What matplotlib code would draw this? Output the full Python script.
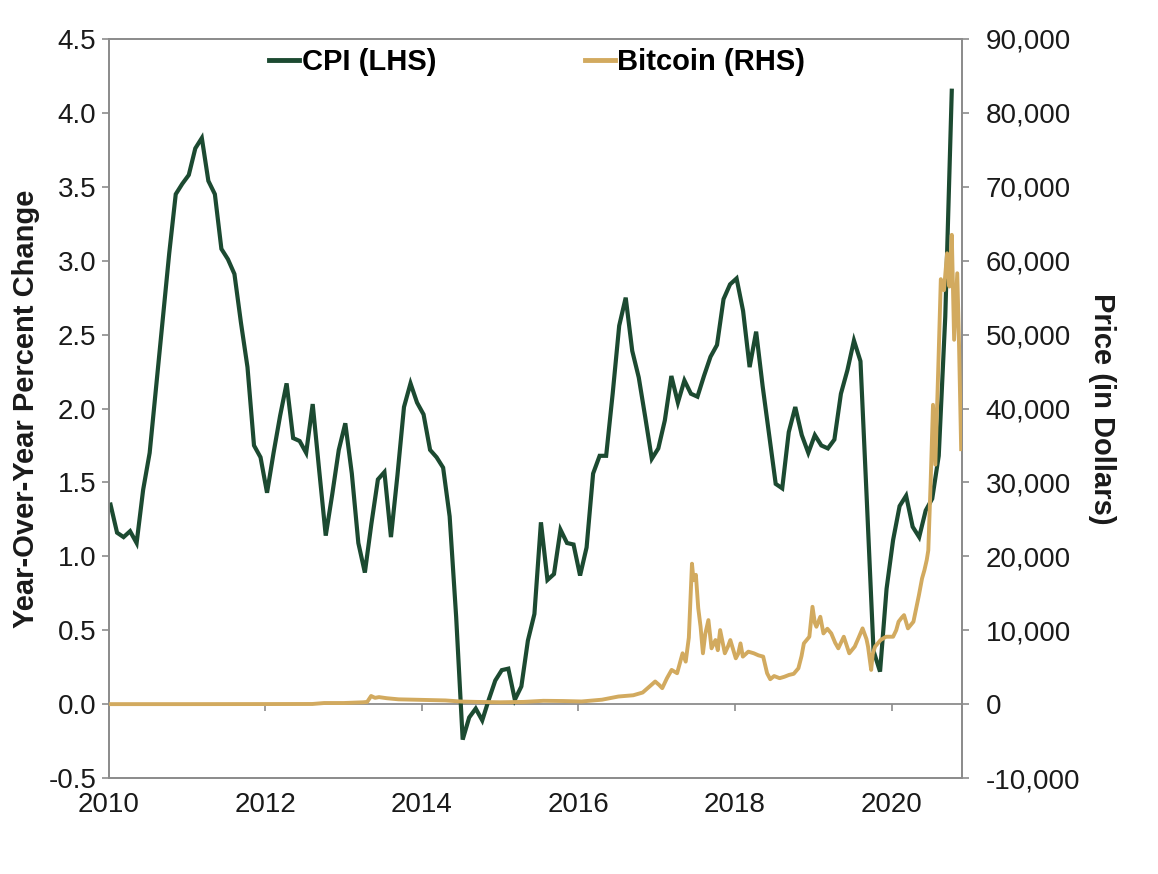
import numpy as np
import matplotlib
matplotlib.use("Agg")
import matplotlib.pyplot as plt
from matplotlib.ticker import FuncFormatter
from matplotlib.lines import Line2D

# --- data ---
# CPI year-over-year % change, one value per month (LHS)
cpi_start = 2010.02
cpi_values = [
    1.35, 1.16, 1.13, 1.17, 1.09, 1.45, 1.70, 2.15, 2.60, 3.05,
    3.45, 3.52, 3.58, 3.76, 3.83, 3.54, 3.45, 3.08, 3.01, 2.91,
    2.58, 2.28, 1.75, 1.67, 1.43, 1.70, 1.95, 2.17, 1.80, 1.78,
    1.70, 2.03, 1.58, 1.14, 1.42, 1.72, 1.90, 1.56, 1.09, 0.89,
    1.22, 1.52, 1.57, 1.13, 1.55, 2.01, 2.17, 2.04, 1.96, 1.72,
    1.67, 1.60, 1.27, 0.59, -0.24, -0.09, -0.03, -0.11, 0.03, 0.16,
    0.23, 0.24, 0.03, 0.12, 0.43, 0.61, 1.23, 0.84, 0.88, 1.18,
    1.09, 1.08, 0.87, 1.06, 1.56, 1.68, 1.68, 2.10, 2.56, 2.75,
    2.39, 2.21, 1.94, 1.66, 1.73, 1.92, 2.22, 2.04, 2.19, 2.10,
    2.08, 2.22, 2.35, 2.43, 2.74, 2.84, 2.88, 2.66, 2.28, 2.52,
    2.15, 1.82, 1.49, 1.46, 1.84, 2.01, 1.82, 1.70, 1.82, 1.75,
    1.73, 1.79, 2.10, 2.26, 2.46, 2.32, 1.35, 0.36, 0.22, 0.78,
    1.11, 1.34, 1.41, 1.20, 1.13, 1.31, 1.39, 1.68, 2.62, 4.15,
]

# Bitcoin price in dollars (RHS)
btc_years = [
    2010.00, 2011.00, 2012.00, 2012.60, 2012.75, 2013.00, 2013.25, 2013.30,
    2013.35, 2013.40, 2013.45, 2013.55, 2013.70, 2013.90, 2014.10, 2014.30,
    2014.50, 2014.70, 2015.00, 2015.30, 2015.55, 2015.80, 2016.04, 2016.30,
    2016.51, 2016.70, 2016.82, 2016.92, 2016.98, 2017.03, 2017.07, 2017.13,
    2017.19, 2017.26, 2017.33, 2017.37, 2017.41, 2017.43, 2017.45, 2017.47,
    2017.50, 2017.53, 2017.56, 2017.59, 2017.62, 2017.66, 2017.70, 2017.75,
    2017.78, 2017.81, 2017.87, 2017.91, 2017.94, 2018.01, 2018.04, 2018.07,
    2018.10, 2018.17, 2018.24, 2018.30, 2018.36, 2018.41, 2018.45, 2018.50,
    2018.57, 2018.63, 2018.69, 2018.75, 2018.81, 2018.85, 2018.88, 2018.95,
    2018.99, 2019.02, 2019.04, 2019.09, 2019.13, 2019.18, 2019.23, 2019.28,
    2019.32, 2019.39, 2019.46, 2019.53, 2019.58, 2019.63, 2019.68, 2019.70,
    2019.74, 2019.76, 2019.79, 2019.86, 2019.93, 2020.02, 2020.06, 2020.09,
    2020.13, 2020.16, 2020.21, 2020.28, 2020.35, 2020.39, 2020.42, 2020.45,
    2020.47, 2020.50, 2020.53, 2020.56, 2020.60, 2020.63, 2020.67, 2020.71,
    2020.74, 2020.77, 2020.80, 2020.84, 2020.86, 2020.89,
]
btc_prices = [
    0, 0, 10, 20, 150, 150, 250, 300,
    1100, 850, 950, 800, 650, 600, 550, 500,
    350, 300, 250, 300, 450, 420, 360, 600,
    1030, 1200, 1570, 2500, 3060, 2600, 2160, 3500,
    4630, 4180, 6880, 5750, 9000, 14000, 19000, 16760,
    17500, 13000, 10470, 6880, 9500, 11370, 7550, 8670,
    7300, 10020, 6880, 7800, 8670, 6200, 6800, 8220,
    6430, 7100, 6880, 6600, 6430, 4180, 3370, 3800,
    3510, 3700, 3950, 4100, 4850, 6500, 8220, 9120,
    13170, 11000, 10470, 11820, 9570, 10200, 9570, 8300,
    7550, 9120, 6880, 7780, 9000, 10250, 8800, 7780,
    4630, 6800, 7780, 8670, 9120, 9120, 10000, 11150,
    11700, 12040, 10250, 11150, 14740, 17000, 18110, 19500,
    20810, 30000, 40500, 32400, 46400, 57500, 56000, 61000,
    56500, 63500, 49300, 58300, 50000, 34500,
]

x_ticks = [2010, 2012, 2014, 2016, 2018, 2020]
cpi_ticks = [-0.5, 0.0, 0.5, 1.0, 1.5, 2.0, 2.5, 3.0, 3.5, 4.0, 4.5]
btc_ticks = [-10000, 0, 10000, 20000, 30000, 40000, 50000, 60000, 70000, 80000, 90000]

GREEN = "#1c4a31"
GOLD = "#d2aa5f"
GRID = "#8c8c8c"
TEXT = "#1a1a1a"

plt.rcParams["font.family"] = ["Liberation Sans", "DejaVu Sans"]
FS_TICK = 20
FS_LABEL = 21

cpi_x = cpi_start + np.arange(len(cpi_values)) / 12.0

fig = plt.figure(figsize=(11.58, 8.74), dpi=100)
ax = fig.add_axes([0.0941, 0.1098, 0.7366, 0.8456])
ax2 = ax.twinx()

ax.plot(cpi_x, cpi_values, color=GREEN, lw=3.0, solid_joinstyle="miter", zorder=3)
ax2.plot(btc_years, btc_prices, color=GOLD, lw=2.8, zorder=3)

ax.set_xlim(2010, 2020.9)
ax.set_ylim(-0.5, 4.5)
ax2.set_ylim(-10000, 90000)

ax.set_yticks(cpi_ticks)
ax.yaxis.set_major_formatter(FuncFormatter(lambda v, p: f"{v:.1f}"))
ax2.set_yticks(btc_ticks)
ax2.yaxis.set_major_formatter(FuncFormatter(lambda v, p: f"{v:,.0f}"))

ax.set_xticks(x_ticks)
ax.set_xticklabels([str(y) for y in x_ticks])
ax.tick_params(axis="x", length=0, pad=10, labelsize=FS_TICK, labelcolor=TEXT)
ax.tick_params(axis="y", direction="out", length=5, width=1.2, color=GRID,
               pad=4, labelsize=FS_TICK, labelcolor=TEXT)
ax2.tick_params(axis="y", direction="out", length=5, width=1.2, color=GRID,
                pad=12, labelsize=FS_TICK, labelcolor=TEXT)

for a in (ax, ax2):
    for s in a.spines.values():
        s.set_color(GRID)
        s.set_linewidth(1.3)

# horizontal axis line at zero with its own ticks
zero_axis = ax.secondary_xaxis(0.1)
zero_axis.set_xticks(x_ticks[1:])
zero_axis.tick_params(direction="out", length=5, width=1.2, color=GRID, labelbottom=False)
zero_axis.spines["bottom"].set_color(GRID)
zero_axis.spines["bottom"].set_linewidth(1.3)

ax.set_ylabel("Year-Over-Year Percent Change", fontsize=FS_LABEL, fontweight="bold",
              color=TEXT, labelpad=6)
ax2.set_ylabel("Price (in Dollars)", fontsize=FS_LABEL, fontweight="bold", color=TEXT,
               rotation=-90, labelpad=26)

handles = [Line2D([], [], color=GREEN, lw=3.5), Line2D([], [], color=GOLD, lw=3.5)]
ax2.legend(handles, ["CPI (LHS)", "Bitcoin (RHS)"], ncol=2, frameon=False,
           loc="center", bbox_to_anchor=(0.502, 0.969),
           prop={"size": FS_LABEL, "weight": "bold"}, handlelength=1.05,
           handletextpad=0.07, columnspacing=5.1)

fig.savefig("out.png", dpi=100)
